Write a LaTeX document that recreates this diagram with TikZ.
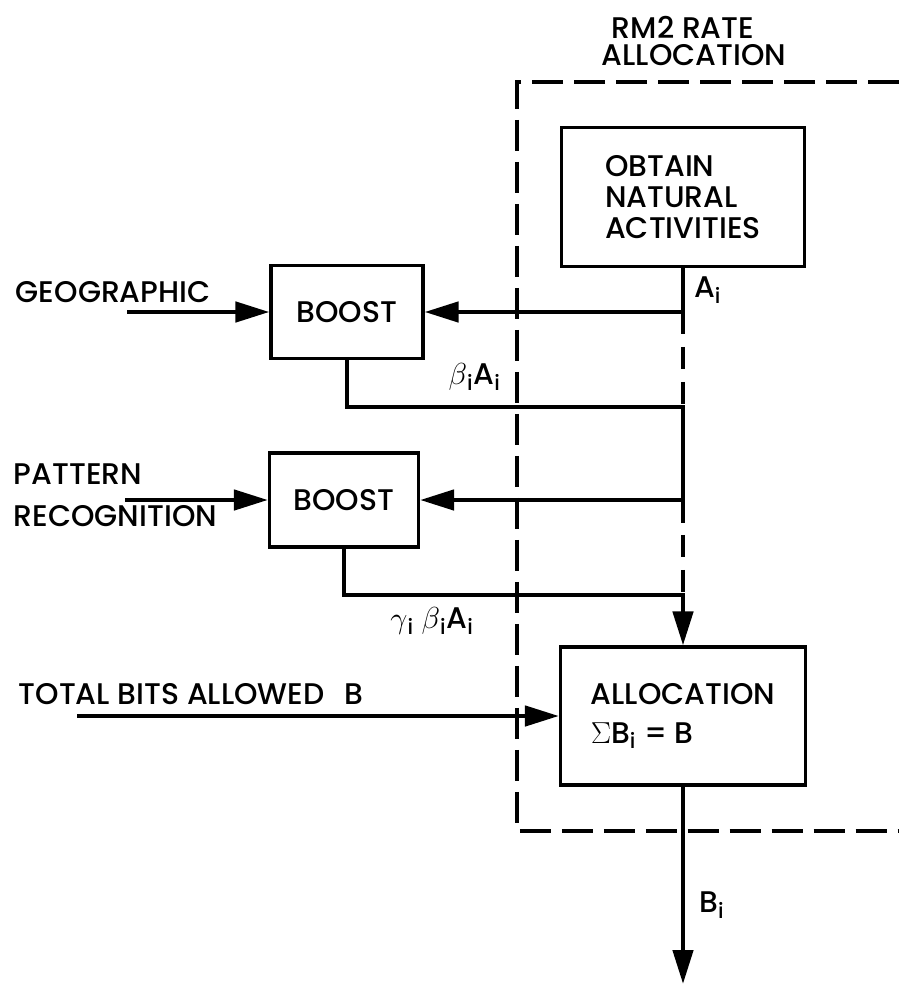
\documentclass[tikz,border=0pt]{standalone}
\usepackage{fontspec}
\setmainfont{Poppins}[UprightFont={* Medium}]
\usetikzlibrary{positioning, arrows.meta}

\begin{document}
\begin{tikzpicture}[x=0.02cm, y=-0.02cm]
	
	% 定义样式
	\tikzset{
		block/.style = {
			draw, line width=1.8pt,
			inner sep=0pt, align=left,
			font=\fontsize{17}{20}\selectfont
		},
		lbl/.style = {
			inner sep=2pt, align=left,
			font=\fontsize{17}{20}\selectfont
		},
		signal/.style = {line width=2.6pt},
		flow/.style = {
			signal,
			-{Triangle[length=0.68cm, width=0.4cm]}
		},
		bypass/.style = {line width=2.6pt, dash pattern=on 0.45cm off 0.25cm},
		frame/.style = {line width=2.8pt, dash pattern=on 0.62cm off 0.22cm}
	}
	
	\useasboundingbox (0,0) rectangle (899,987);
	
	% 虚线框
	\draw[frame] (899,82) -- (517,82) -- (517,831) -- (899,831);
	\node[lbl, anchor=north west, font=\fontsize{17}{15.5}\selectfont] (title) at (598,12) {\hspace*{0.2cm}RM2 RATE\\ALLOCATION};
	
	% 方框
	\node[block, minimum width=4.86cm, minimum height=2.78cm,
		font=\fontsize{17}{17.6}\selectfont] (obtain) at (683,197) {OBTAIN\\NATURAL\\ACTIVITIES};
	\node[block, minimum width=3.04cm, minimum height=1.86cm, align=center] (boostA) at (347,312) {BOOST};
	\node[block, minimum width=2.98cm, minimum height=1.88cm, align=center] (boostB) at (344,500) {BOOST};
	\node[block, minimum width=4.9cm, minimum height=2.76cm] (alloc) at (683,716) {ALLOCATION\\[2pt]$\Sigma$B\textsubscript{i} = B};
	
	% 分支点
	\coordinate (jA) at (obtain.south |- boostA.east);
	\coordinate (jB) at (obtain.south |- 0,407);
	\coordinate (jC) at (obtain.south |- boostB.east);
	\coordinate (jD) at (obtain.south |- 0,595);
	\coordinate (out) at (obtain.south |- 0,984);
	
	% 连线
	\draw[signal] (obtain.south) -- node[lbl, right=3pt] {A\textsubscript{i}} (jA);
	\draw[flow] (jA) -- (boostA.east);
	\draw[bypass] (jA) -- (jB);
	\draw[signal] (boostA.south) |- node[lbl, pos=0.69, above=6pt] {$\beta$\textsubscript{i}A\textsubscript{i}} (jB) -- (jC);
	\draw[flow] (jC) -- (boostB.east);
	\draw[bypass] (jC) -- (jD);
	\draw[flow] (boostB.south) |- node[lbl, pos=0.63, below=4pt] {$\gamma$\textsubscript{i} $\beta$\textsubscript{i}A\textsubscript{i}} (jD) -- (alloc.north);
	\draw[flow] (alloc.south) -- node[lbl, pos=0.6, right=6pt] {B\textsubscript{i}} (out);
	
	% 输入
	\node[lbl, anchor=west] (geo) at (12,292) {GEOGRAPHIC};
	\coordinate (geoIn) at (127,312);
	\draw[flow] (geoIn) -- (boostA.west);
	
	\node[lbl, anchor=west, font=\fontsize{17}{24}\selectfont] (pattern) at (10,495) {PATTERN\\RECOGNITION};
	\coordinate (patIn) at (125,500);
	\draw[flow] (patIn) -- (boostB.west);
	
	\node[lbl, anchor=west] (total) at (15,694) {TOTAL BITS ALLOWED\hspace{0.4cm}B};
	\coordinate (totIn) at (77,716);
	\draw[flow] (totIn) -- (alloc.west);
	
\end{tikzpicture}
\end{document}
